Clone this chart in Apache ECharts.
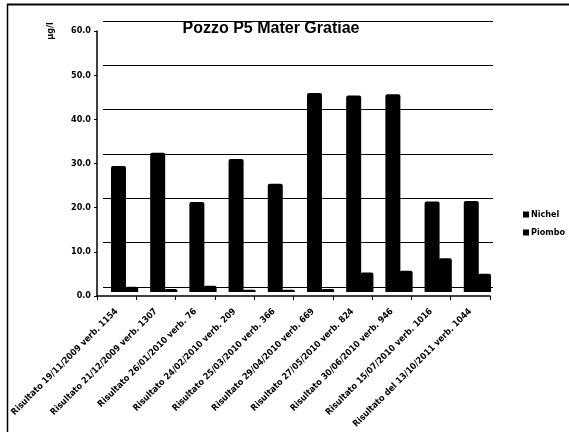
<!DOCTYPE html>
<html><head><meta charset="utf-8">
<script src="https://cdn.jsdelivr.net/npm/echarts@6/dist/echarts.min.js"></script>
<style>html,body{margin:0;padding:0;background:#fff}#c{width:569px;height:439px}</style>
</head><body><div id="c"></div>
<script>
const categories = [
  "Risultato 19/11/2009 verb. 1154",
  "Risultato 21/12/2009 verb. 1307",
  "Risultato 26/01/2010 verb. 76",
  "Risultato 24/02/2010 verb. 209",
  "Risultato 25/03/2010 verb. 366",
  "Risultato 29/04/2010 verb. 669",
  "Risultato 27/05/2010 verb. 824",
  "Risultato 30/06/2010 verb. 946",
  "Risultato 15/07/2010 verb. 1016",
  "Risultato del 13/10/2011 verb. 1044"
];
const nichel = [28.4, 31.4, 20.3, 30.0, 24.4, 44.9, 44.3, 44.6, 20.4, 20.5];
const piombo = [1.2, 0.7, 1.4, 0.5, 0.5, 0.7, 4.4, 4.8, 7.6, 4.1];
const yTicks = [0, 10, 20, 30, 40, 50, 60];

const chart = echarts.init(document.getElementById('c'));
const font = "'Liberation Sans Narrow','DejaVu Sans Condensed','Liberation Sans',sans-serif";
chart.setOption({
  animation: false,
  backgroundColor: '#fff',
  title: {
    text: 'Pozzo P5 Mater Gratiae', left: 266, top: 16, textAlign: 'center',
    textStyle: { fontFamily: "'Liberation Sans',sans-serif", fontWeight: 'bold', fontSize: 16, color: '#000' }
  },
  legend: {
    orient: 'vertical', left: 518, top: 205, itemWidth: 6, itemHeight: 6, itemGap: 9,
    icon: 'rect',
    textStyle: { fontFamily: font, fontSize: 9, fontWeight: 'bold', color: '#000', padding: [0,0,0,-3] },
    data: ['Nichel', 'Piombo']
  },
  graphic: [
    { type: 'line', shape: { x1: 7, y1: 4.5, x2: 569, y2: 4.5 }, style: { stroke: '#000', lineWidth: 2 } },
    { type: 'line', shape: { x1: 7.5, y1: 4, x2: 7.5, y2: 432 }, style: { stroke: '#000', lineWidth: 1.5 } }
  ],
  grid: [
    { left: 103, right: 76, top: 21, bottom: 152 },
    { left: 97, right: 79, top: 31, bottom: 143 },
    { left: 105, right: 72, top: 26, bottom: 147 }
  ],
  xAxis: [
    { type: 'category', gridIndex: 0, data: categories, show: false },
    { type: 'category', gridIndex: 1, data: categories,
      axisLine: { lineStyle: { color: '#000', width: 1.5 } },
      axisTick: { show: true, length: 4, lineStyle: { color: '#000' } },
      axisLabel: { rotate: 45, interval: 0, margin: 14, fontFamily: font, fontSize: 9, fontWeight: 'bold', color: '#000' }
    },
    { type: 'category', gridIndex: 2, data: categories, show: false }
  ],
  yAxis: [
    { type: 'value', gridIndex: 0, min: 0, max: 60, interval: 10,
      axisLine: { show: false }, axisTick: { show: false }, axisLabel: { show: false },
      splitLine: { lineStyle: { color: '#000', width: 1 } } },
    { type: 'value', gridIndex: 1, min: 0, max: 60, interval: 10,
      name: 'µg/l', nameLocation: 'end', nameRotate: 90, nameGap: 0,
      nameTextStyle: { fontFamily: font, fontSize: 9, fontWeight: 'bold', color: '#000', align: 'center', verticalAlign: 'bottom', padding: [0, 0, 42, 0] },
      axisLine: { show: true, lineStyle: { color: '#000', width: 1.5 } },
      axisTick: { show: true, length: 3, lineStyle: { color: '#000' } },
      splitLine: { show: false },
      axisLabel: { margin: 6, fontFamily: font, fontSize: 9, fontWeight: 'bold', color: '#000',
        formatter: v => yTicks.includes(v) ? v.toFixed(1) : '' }
    },
    { type: 'value', gridIndex: 2, min: 0, max: 60, interval: 10, show: false, splitLine: { show: false } }
  ],
  series: [
    { name: 'Nichel', type: 'bar', xAxisIndex: 2, yAxisIndex: 2, data: nichel, barWidth: 15, barGap: '-5%',
      itemStyle: { color: '#000', borderRadius: [2, 2, 0, 0] } },
    { name: 'Piombo', type: 'bar', xAxisIndex: 2, yAxisIndex: 2, data: piombo, barWidth: 13,
      itemStyle: { color: '#000', borderRadius: [2, 2, 0, 0] } }
  ]
});
</script></body></html>
